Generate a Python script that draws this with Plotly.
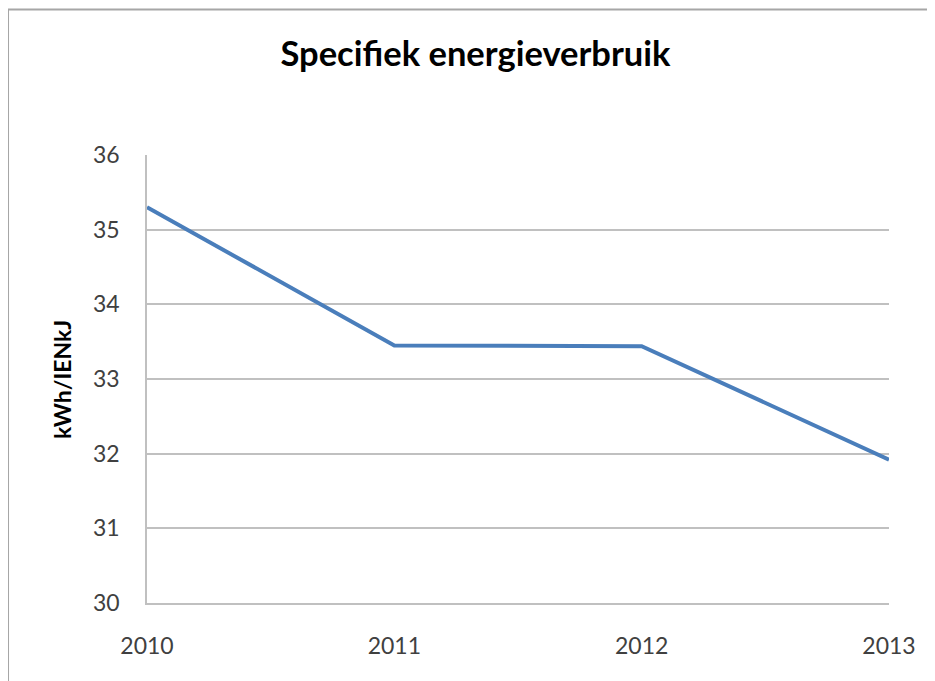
import plotly.graph_objects as go

# Data
years = [2010, 2011, 2012, 2013]
verbruik = [35.3, 33.45, 33.44, 31.92]
y_ticks = [30, 31, 32, 33, 34, 35, 36]

fig = go.Figure()

fig.add_trace(go.Scatter(
    x=years,
    y=verbruik,
    mode='lines',
    line=dict(color='#4a7ebb', width=4),
    showlegend=False
))

# Chart frame (cut off on right and bottom like the source image)
fig.add_shape(
    type='rect', xref='paper', yref='paper',
    x0=-0.1873, y0=-0.3, x1=1.2, y1=1.325,
    line=dict(color='#a6a6a6', width=2), layer='below'
)

# y axis title
fig.add_annotation(
    text='<b>kWh/IENkJ</b>', textangle=-90,
    xref='paper', yref='paper', x=-0.1146, y=0.5,
    xanchor='center', yanchor='middle',
    showarrow=False, font=dict(size=23, color='black')
)

fig.update_layout(
    width=935,
    height=681,
    margin=dict(l=139, r=54, t=147, b=86),
    paper_bgcolor='white',
    plot_bgcolor='white',
    font=dict(family='Lato', color='#404040', size=23),
    title=dict(
        text='Specifiek energieverbruik',
        x=0.5, xanchor='center',
        y=0.932, yanchor='middle',
        font=dict(family='Lato', size=34.5, color='black', weight='bold')
    )
)

fig.update_xaxes(
    range=[2010, 2013],
    tickvals=years,
    ticktext=[str(y) for y in years],
    showgrid=False,
    showline=True,
    linecolor='#c0c0c0',
    linewidth=1.5,
    zeroline=False,
    ticks='',
    ticklabelstandoff=22,
    automargin=False
)

fig.update_yaxes(
    range=[30, 36],
    tickvals=y_ticks,
    showgrid=True,
    gridcolor='#c0c0c0',
    gridwidth=1.5,
    showline=True,
    linecolor='#c0c0c0',
    linewidth=1.5,
    zeroline=False,
    ticks='',
    ticklabelstandoff=21,
    automargin=False
)

fig.write_html('out.html')
